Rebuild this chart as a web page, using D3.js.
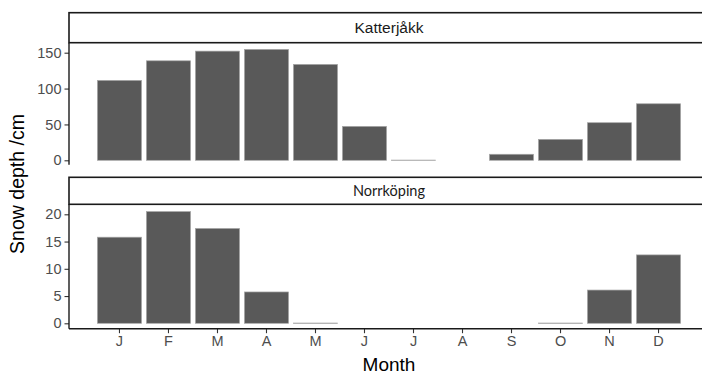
<!DOCTYPE html>
<html>
<head>
<meta charset="utf-8">
<script src="https://cdn.jsdelivr.net/npm/d3@7"></script>
<style>
  html, body { margin: 0; padding: 0; background: #fff; }
  svg { display: block; }
</style>
</head>
<body>
<svg id="chart" width="702" height="374"></svg>
<script>
// ---- data ----
const months = ["J","F","M","A","M2","J2","J3","A2","S","O","N","D"];
const monthLabels = ["J","F","M","A","M","J","J","A","S","O","N","D"];
const stations = ["Katterjåkk", "Norrköping"];
const katterjakk = [111.4, 138.7, 152.2, 154.6, 133.7, 47.3, 0.3, null, 8.4, 29.2, 52.4, 78.8];
const norrkoping = [15.8, 20.5, 17.4, 5.75, 0.05, null, null, null, null, 0.05, 6.1, 12.55];
const katTicks = [0, 50, 100, 150];
const norTicks = [0, 5, 10, 15, 20];

const svg = d3.select("#chart");
const font = "'Liberation Sans', Arial, Helvetica, sans-serif";

const left = 69, right = 709;
const x = d3.scaleBand().domain(months).range([left, right]).paddingInner(0.1).paddingOuter(0.58);

const panels = [
  { name: stations[0], values: katterjakk, ticks: katTicks, stripTop: 12.7, stripBot: 42.7, panelBot: 164.7, y0: 160.3, yTop: 52.7, yTopVal: 150, stripFont: font, stripSize: 15.5 },
  { name: stations[1], values: norrkoping, ticks: norTicks, stripTop: 177.3, stripBot: 204.3, panelBot: 328.7, y0: 323.3, yTop: 214.3, yTopVal: 20, stripFont: "Lato, 'Noto Sans', sans-serif", stripSize: 14.5 }
];

panels.forEach((p, pi) => {
  const y = d3.scaleLinear().domain([0, p.yTopVal]).range([p.y0, p.yTop]);
  const g = svg.append("g");

  // strip
  g.append("rect")
    .attr("x", left).attr("y", p.stripTop)
    .attr("width", right - left).attr("height", p.stripBot - p.stripTop)
    .attr("fill", "#fff").attr("stroke", "#1a1a1a").attr("stroke-width", 1.6);
  g.append("text")
    .attr("x", (left + right) / 2).attr("y", (p.stripTop + p.stripBot) / 2)
    .attr("dy", "0.36em").attr("text-anchor", "middle")
    .attr("font-family", p.stripFont).attr("font-size", p.stripSize)
    .attr("fill", "#1a1a1a").text(p.name);

  // bars
  const data = months.map((m, i) => ({ m, v: p.values[i] })).filter(d => d.v !== null);
  g.selectAll("rect.bar").data(data).enter().append("rect")
    .attr("class", "bar")
    .attr("x", d => x(d.m)).attr("width", x.bandwidth())
    .attr("y", d => y(d.v)).attr("height", d => Math.max(0, y(0) - y(d.v)))
    .attr("fill", "#595959").attr("stroke", "#a6a6a6").attr("stroke-width", 0.7);

  // y axis
  const yAxis = d3.axisLeft(y).tickValues(p.ticks).tickSize(4.5).tickPadding(3).tickFormat(d3.format("d"));
  const ya = g.append("g").attr("transform", `translate(${left},0)`).call(yAxis);
  ya.select(".domain").remove();
  ya.append("line").attr("x1", 0).attr("x2", 0).attr("y1", p.stripBot).attr("y2", p.panelBot)
    .attr("stroke", "#1a1a1a").attr("stroke-width", 1.4);
  ya.selectAll(".tick line").attr("stroke", "#333").attr("stroke-width", 1.1);
  ya.selectAll(".tick text").attr("font-family", font).attr("font-size", 14.5).attr("fill", "#4d4d4d");

  if (pi === 1) {
    const xAxis = d3.axisBottom(x).tickSize(4.5).tickPadding(3).tickFormat((d, i) => monthLabels[i]);
    const xa = g.append("g").attr("transform", `translate(0,${p.panelBot})`).call(xAxis);
    xa.select(".domain").remove();
    xa.append("line").attr("x1", left).attr("x2", right).attr("y1", 0).attr("y2", 0)
      .attr("stroke", "#1a1a1a").attr("stroke-width", 1.4);
    xa.selectAll(".tick line").attr("stroke", "#333").attr("stroke-width", 1.1);
    xa.selectAll(".tick text").attr("font-family", font).attr("font-size", 14.5).attr("fill", "#4d4d4d");
  }
});

// axis titles
svg.append("text")
  .attr("x", (left + right) / 2).attr("y", 371)
  .attr("text-anchor", "middle").attr("font-family", font).attr("font-size", 19)
  .attr("fill", "#000").text("Month");
svg.append("text")
  .attr("transform", `translate(24,184) rotate(-90)`)
  .attr("text-anchor", "middle").attr("font-family", font).attr("font-size", 19.5)
  .attr("fill", "#000").text("Snow depth /cm");
</script>
</body>
</html>
